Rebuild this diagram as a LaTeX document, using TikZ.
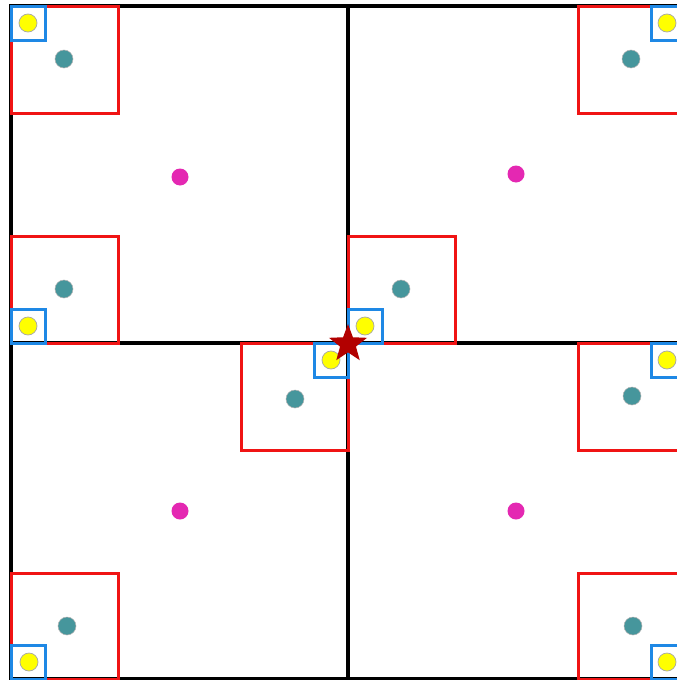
\documentclass[tikz,border=0pt]{standalone}
\usetikzlibrary{shapes.geometric}
\definecolor{redsq}{RGB}{240,20,20}
\definecolor{bluesq}{RGB}{30,136,229}
\definecolor{yel}{RGB}{255,255,0}
\definecolor{teal2}{RGB}{70,150,156}
\definecolor{mag}{RGB}{228,40,178}
\definecolor{starred}{RGB}{178,0,0}
\tikzset{
  grid/.style={line width=3.2pt,black},
  redbox/.style={draw=redsq,line width=3.0pt},
  bluebox/.style={draw=bluesq,line width=3.0pt},
  ydot/.style={circle,fill=yel,draw=gray!70,line width=0.7pt,minimum size=18pt,inner sep=0pt},
  tdot/.style={circle,fill=teal2,draw=gray!60,line width=0.5pt,minimum size=18pt,inner sep=0pt},
  mdot/.style={circle,fill=mag,minimum size=17pt,inner sep=0pt},
  bigstar/.style={star,star points=5,star point ratio=2.4,fill=starred,minimum size=40pt,inner sep=0pt}
}
\begin{document}
\begin{tikzpicture}[x=1pt,y=-1pt]
\useasboundingbox (0,0) rectangle (677,680);
\clip (0,0) rectangle (677,680);
\fill[white] (0,0) rectangle (677,680);
% grid
\draw[grid] (11,6) rectangle (685,679);
\draw[grid] (348,6) -- (348,679);
\draw[grid] (11,343) -- (685,343);
% red boxes
\draw[redbox] (11,6) rectangle (118,113);
\draw[redbox] (11,236) rectangle (118,343);
\draw[redbox] (241,343) rectangle (348,450);
\draw[redbox] (578,6) rectangle (685,113);
\draw[redbox] (348,236) rectangle (455,343);
\draw[redbox] (11,573) rectangle (118,679);
\draw[redbox] (578,343) rectangle (685,450);
\draw[redbox] (578,573) rectangle (685,679);
% blue boxes
\draw[bluebox] (11,6) rectangle (45,40);
\draw[bluebox] (11,309) rectangle (45,343);
\draw[bluebox] (314,343) rectangle (348,377);
\draw[bluebox] (651,6) rectangle (685,40);
\draw[bluebox] (348,309) rectangle (382,343);
\draw[bluebox] (11,645) rectangle (45,679);
\draw[bluebox] (651,343) rectangle (685,377);
\draw[bluebox] (651,645) rectangle (685,679);
% yellow dots
\node[ydot] (y1) at (28,23) {};
\node[ydot] (y2) at (28,326) {};
\node[ydot] (y3) at (331,360) {};
\node[ydot] (y4) at (667,23) {};
\node[ydot] (y5) at (365,326) {};
\node[ydot] (y6) at (29,662) {};
\node[ydot] (y7) at (667,360) {};
\node[ydot] (y8) at (667,662) {};
% teal dots
\node[tdot] (t1) at (64,59) {};
\node[tdot] (t2) at (64,289) {};
\node[tdot] (t3) at (295,399) {};
\node[tdot] (t4) at (631,59) {};
\node[tdot] (t5) at (401,289) {};
\node[tdot] (t6) at (67,626) {};
\node[tdot] (t7) at (632,396) {};
\node[tdot] (t8) at (633,626) {};
% magenta dots
\node[mdot] (m1) at (180,177) {};
\node[mdot] (m2) at (516,174) {};
\node[mdot] (m3) at (180,511) {};
\node[mdot] (m4) at (516,511) {};
% star
\node[bigstar] (s) at (348,344) {};
\end{tikzpicture}
\end{document}
